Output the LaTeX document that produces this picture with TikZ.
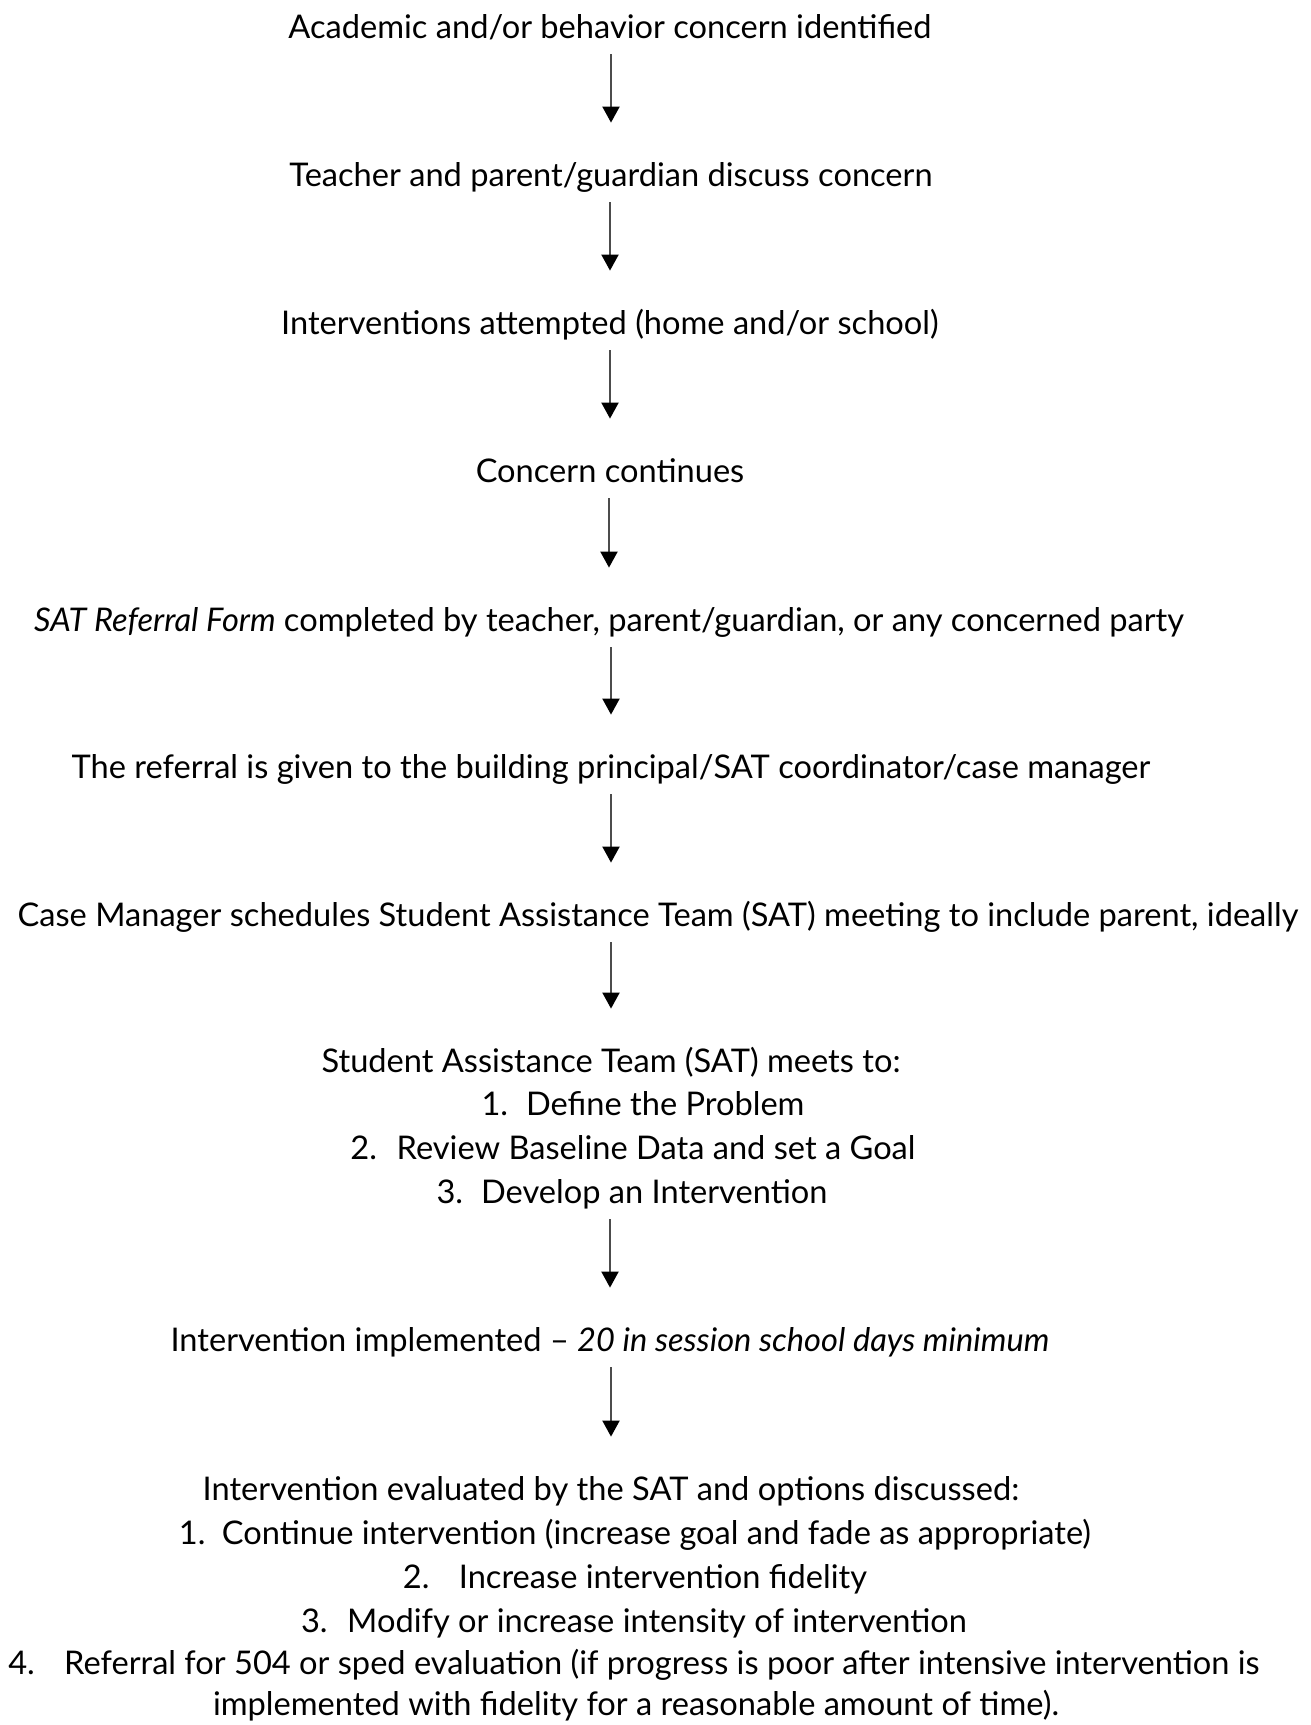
\documentclass[tikz,border=0pt]{standalone}
\usepackage{fontspec}
\setmainfont{Lato}
\usepackage{tikz}
\usetikzlibrary{arrows.meta, calc}

\begin{document}
\begin{tikzpicture}[
    x=0.5pt, y=-0.5pt,
    every node/.style={font=\fontsize{16.3}{19}\selectfont},
    stage/.style={
        inner sep=0pt, anchor=base, text height=11pt, text depth=3.5pt
    },
    arr/.style={-{Triangle[length=8pt, width=8.5pt, color=black]},
        line width=1pt, color=black!70,
        shorten <=4.5pt, shorten >=20.5pt},
]
\useasboundingbox (0,0) rectangle (1311,1725);

% Steps
\node[stage] (concern) at (610,38) {Academic and/or behavior concern identified};
\node[stage] (discuss) at (611,186) {Teacher and parent/guardian discuss concern};
\node[stage] (attempt) at (610,334) {Interventions attempted (home and/or school)};
\node[stage] (continues) at (610,482) {Concern continues};
\node[stage] (form) at (609,631) {\textit{SAT Referral Form} completed by teacher, parent/guardian, or any concerned party};
\node[stage] (given) at (611,778) {The referral is given to the building principal/SAT coordinator/case manager};
\node[stage] (schedule) at (658,926) {Case Manager schedules Student Assistance Team (SAT) meeting to include parent, ideally};

% SAT meeting
\node[stage] (meets) at (611,1072) {Student Assistance Team (SAT) meets to:};
\node[stage] (define) at (643,1115) {1.\hspace{0.55em}Define the Problem};
\node[stage] (review) at (633,1159) {2.\hspace{0.6em}Review Baseline Data and set a Goal};
\node[stage] (develop) at (632,1203) {3.\hspace{0.55em}Develop an Intervention};

\node[stage] (implement) at (610,1351) {Intervention implemented -- \textit{20 in session school days minimum}};

% Evaluation and options
\node[stage] (evaluate) at (611,1500) {Intervention evaluated by the SAT and options discussed:};
\node[stage] (opt1) at (635,1544) {1.\hspace{0.5em}Continue intervention (increase goal and fade as appropriate)};
\node[stage] (opt2) at (635,1588) {2.\hspace{0.9em}Increase intervention fidelity};
\node[stage] (opt3) at (634,1632) {3.\hspace{0.6em}Modify or increase intensity of intervention};
\node[stage] (opt4) at (634,1674) {4.\hspace{0.9em}Referral for 504 or sped evaluation (if progress is poor after intensive intervention is};
\node[stage] (opt4b) at (636,1715) {implemented with fidelity for a reasonable amount of time).};

% Arrows
\draw[arr] (discuss.north |- concern.south) -- (discuss.north);
\draw[arr] (attempt.north |- discuss.south) -- (attempt.north);
\draw[arr] (continues.north |- attempt.south) -- (continues.north);
\draw[arr] (form.north |- continues.south) -- (form.north);
\draw[arr] (given.north |- form.south) -- (given.north);
\draw[arr] (given.south) -- (given.south |- schedule.north);
\draw[arr] (meets.north |- schedule.south) -- (meets.north);
\draw[arr] (implement.north |- develop.south) -- (implement.north);
\draw[arr] (evaluate.north |- implement.south) -- (evaluate.north);

\end{tikzpicture}
\end{document}
